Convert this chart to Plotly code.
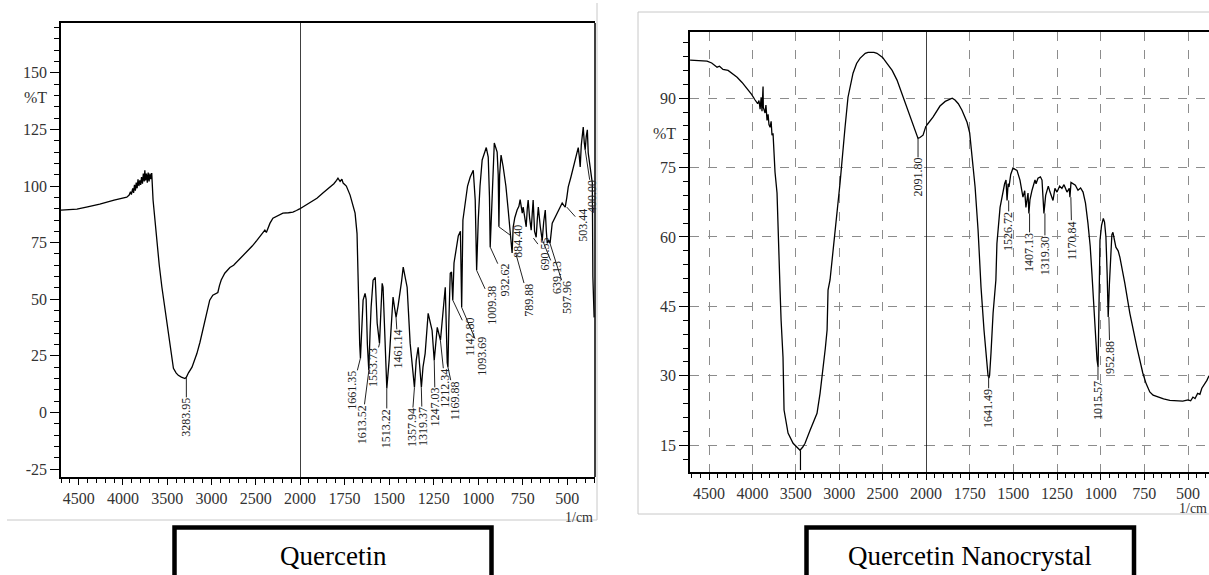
import numpy as np
import plotly.graph_objects as go

# ---- Quercetin FTIR spectrum (wavenumber 1/cm, %T) ----
q_wn = [4700, 4600, 4520, 4400, 4262, 4100, 3957, 3930, 3915, 3905, 3890, 3880, 3870, 3860, 3850, 3840,
        3830, 3820, 3810, 3800, 3790, 3780, 3770, 3760, 3753, 3745, 3735, 3725, 3715, 3705, 3695, 3685,
        3675, 3660, 3640, 3620, 3590, 3560, 3545, 3520, 3490, 3460, 3430, 3400, 3375, 3340, 3300, 3284,
        3260, 3220, 3165, 3130, 3100, 3060, 3020, 2985, 2950, 2928, 2910, 2890, 2850, 2792, 2750, 2715,
        2660, 2600, 2540, 2487, 2440, 2397, 2380, 2362, 2340, 2306, 2250, 2193, 2130, 2080, 2040, 2000,
        1950, 1905, 1870, 1831, 1810, 1795, 1787, 1775, 1765, 1758, 1740, 1719, 1702, 1691, 1680, 1674,
        1665, 1661, 1655, 1646, 1635, 1629, 1622, 1614, 1607, 1601, 1590, 1578, 1567, 1561, 1554, 1546,
        1539, 1534, 1522, 1513, 1500, 1483, 1478, 1470, 1461, 1450, 1438, 1430, 1421, 1410, 1399, 1382,
        1365, 1358, 1348, 1337, 1328, 1319, 1310, 1298, 1281, 1270, 1259, 1247, 1237, 1230, 1212, 1196,
        1185, 1174, 1170, 1165, 1157, 1150, 1143, 1136, 1125, 1112, 1100, 1093, 1086, 1073, 1060, 1045,
        1028, 1017, 1009, 1000, 990, 978, 965, 955, 944, 937, 933, 927, 922, 915, 910, 902,
        894, 888, 884, 880, 872, 860, 845, 832, 820, 810, 804, 795, 782, 772, 765, 758,
        753, 748, 740, 731, 725, 720, 712, 703, 697, 692, 684, 675, 669, 663, 652, 641,
        633, 624, 618, 613, 605, 597, 585, 570, 557, 545, 529, 520, 512, 503, 495, 480,
        467, 455, 445, 439, 433, 428, 422, 417, 411, 405, 400, 394, 388, 383, 375, 365,
        360, 357, 355, 350]
q_t = [89.4, 89.6, 89.8, 90.8, 92.0, 93.8, 95.1, 96.0, 97.5, 96.2, 99.0, 97.0, 100.5, 98.0, 101.5, 99.0,
       103.0, 100.0, 102.5, 100.5, 104.0, 101.0, 105.5, 102.0, 107.0, 102.5, 105.5, 101.5, 106.0, 102.0, 105.5, 103.0,
       105.7, 93.8, 85.0, 76.0, 65.0, 55.3, 51.0, 44.0, 36.3, 27.0, 19.5, 17.5, 16.4, 15.6, 15.0, 15.5,
       17.5, 20.0, 26.0, 31.0, 36.0, 43.0, 49.6, 51.8, 52.5, 53.0, 56.0, 58.5, 61.5, 64.0, 65.0, 66.4,
       68.5, 70.8, 73.5, 76.0, 78.5, 80.5, 79.5, 81.4, 83.5, 85.8, 87.0, 88.0, 88.2, 88.5, 89.2, 90.0,
       92.5, 94.6, 97.0, 99.6, 101.0, 102.5, 103.5, 102.0, 103.0, 101.3, 100.0, 96.0, 90.7, 88.0, 79.0, 52.6,
       30.0, 23.9, 35.0, 49.6, 52.6, 50.0, 30.0, 18.6, 35.0, 46.5, 58.4, 59.7, 39.4, 35.0, 30.5, 45.0,
       57.0, 55.3, 30.5, 10.6, 23.0, 49.6, 51.0, 46.5, 42.0, 47.0, 52.6, 58.0, 64.2, 60.0, 55.3, 30.5,
       14.0, 11.0, 23.0, 28.8, 20.0, 11.0, 20.0, 26.0, 43.8, 40.0, 36.3, 23.0, 33.0, 37.6, 31.9, 48.2,
       55.3, 22.0, 20.0, 40.0, 61.5, 62.0, 49.6, 66.0, 72.0, 78.0, 80.0, 46.5, 85.0, 93.8, 100.0, 104.0,
       107.0, 93.8, 62.8, 85.0, 100.0, 111.5, 115.0, 117.0, 112.8, 95.0, 73.0, 85.0, 93.8, 112.0, 119.0, 117.0,
       115.0, 105.0, 82.0, 105.0, 113.7, 108.4, 100.0, 89.4, 80.0, 70.4, 81.9, 86.0, 89.4, 91.0, 94.0, 89.0,
       88.0, 90.7, 86.0, 82.0, 90.0, 93.8, 86.0, 80.5, 88.0, 93.8, 80.0, 77.4, 85.0, 90.7, 82.0, 76.0,
       84.0, 89.4, 80.0, 74.8, 76.0, 74.8, 83.6, 86.0, 88.0, 90.0, 92.5, 91.5, 90.7, 95.0, 99.6, 104.0,
       108.4, 112.0, 115.0, 117.0, 113.0, 108.4, 118.0, 121.7, 126.0, 119.0, 116.0, 122.0, 124.8, 114.6, 110.0, 104.0,
       101.3, 60.0, 51.0, 42.0]

q_peak_wn = [3283.95, 1661.35, 1613.52, 1553.73, 1513.22, 1461.14, 1357.94, 1319.37, 1247.03, 1212.34,
             1169.88, 1142.80, 1093.69, 1009.38, 932.62, 884.40, 789.88, 690.55, 639.13, 597.96, 503.44, 400.00]
q_peak_t = [15.5, 23.9, 18.6, 30.5, 10.6, 42.0, 11.0, 11.0, 23.0, 31.9,
            20.0, 49.6, 46.5, 62.8, 73.0, 82.0, 70.4, 77.0, 76.0, 74.8, 90.7, 116.0]

# ---- Quercetin Nanocrystal FTIR spectrum ----
n_wn = [4719, 4620, 4523, 4470, 4408, 4380, 4340, 4281, 4230, 4177, 4120, 4062, 4010, 3970, 3940, 3925,
        3912, 3900, 3890, 3880, 3878, 3875, 3866, 3855, 3845, 3832, 3820, 3810, 3797, 3785, 3775, 3763,
        3751, 3740, 3717, 3705, 3690, 3682, 3670, 3648, 3636, 3590, 3532, 3490, 3452, 3420, 3394, 3336,
        3256, 3221, 3187, 3160, 3140, 3129, 3106, 3048, 2991, 2933, 2899, 2841, 2800, 2761, 2700, 2668,
        2600, 2565, 2500, 2450, 2390, 2334, 2290, 2242, 2200, 2161, 2120, 2092, 2070, 2050, 2034, 2000,
        1995, 1960, 1920, 1890, 1863, 1850, 1834, 1815, 1794, 1765, 1750, 1737, 1719, 1702, 1685, 1668,
        1651, 1645, 1640, 1636, 1628, 1616, 1600, 1594, 1576, 1565, 1559, 1550, 1542, 1536, 1530, 1525,
        1515, 1502, 1490, 1479, 1462, 1445, 1435, 1428, 1416, 1411, 1405, 1393, 1376, 1370, 1359, 1345,
        1336, 1325, 1315, 1308, 1300, 1290, 1273, 1262, 1250, 1235, 1222, 1210, 1193, 1180, 1176, 1170,
        1159, 1145, 1130, 1115, 1101, 1087, 1073, 1060, 1050, 1038, 1030, 1021, 1015, 1010, 1004, 995,
        985, 978, 970, 963, 957, 950, 943, 936, 930, 922, 913, 900, 890, 862, 833, 793,
        759, 740, 719, 700, 673, 640, 604, 570, 530, 500, 485, 472, 460, 445, 432, 421,
        405, 392, 380]
n_t = [98.2, 98.1, 98.0, 97.6, 96.7, 96.9, 96.2, 96.0, 95.3, 94.5, 93.4, 92.1, 90.8, 89.6, 88.8, 89.5,
       87.6, 90.2, 87.2, 91.7, 92.5, 88.0, 87.4, 86.8, 88.5, 85.2, 86.5, 84.3, 83.7, 85.0, 82.0, 82.4,
       78.0, 74.0, 69.5, 60.8, 52.0, 48.5, 42.0, 34.0, 22.6, 17.6, 15.4, 14.6, 13.9, 14.6, 15.4, 18.2,
       21.9, 26.2, 31.2, 36.0, 39.9, 48.5, 50.7, 60.8, 71.6, 83.7, 90.2, 95.4, 97.5, 98.6, 99.7, 99.9,
       99.9, 99.7, 98.8, 97.5, 96.0, 93.9, 91.6, 88.9, 86.6, 84.6, 82.5, 81.3, 81.5, 81.8, 82.0, 84.0,
       84.2, 85.9, 88.3, 89.3, 89.8, 90.0, 89.6, 88.8, 87.4, 84.8, 82.5, 78.1, 70.8, 61.5, 49.1, 39.9,
       31.9, 30.1, 29.5, 30.1, 34.9, 43.5, 50.7, 58.6, 66.4, 68.5, 70.1, 71.5, 72.3, 67.9, 71.5, 70.8,
       73.5, 74.9, 74.6, 74.4, 72.3, 68.6, 70.0, 66.4, 69.5, 65.1, 68.0, 70.1, 72.3, 71.5, 72.7, 73.0,
       72.3, 65.1, 69.0, 70.1, 71.0, 69.7, 67.9, 70.5, 69.7, 71.0, 70.5, 71.3, 69.7, 70.5, 68.6, 71.8,
       71.6, 71.2, 70.1, 70.6, 69.7, 67.3, 63.0, 58.0, 52.0, 45.0, 38.0, 33.4, 31.9, 45.0, 59.3, 62.5,
       64.0, 63.2, 60.0, 52.0, 42.7, 50.0, 56.5, 60.5, 61.0, 59.5, 57.8, 57.0, 55.6, 50.0, 43.5, 36.2,
       30.6, 28.3, 26.5, 25.8, 25.4, 25.0, 24.7, 24.6, 24.5, 24.8, 24.6, 25.4, 25.1, 26.2, 26.0, 27.3,
       28.2, 29.0, 30.0]

n_peak_wn = [2091.80, 1641.49, 1526.72, 1407.13, 1319.30, 1170.84, 1015.57, 952.88]
n_peak_t = [81.3, 30.1, 67.9, 65.1, 65.1, 68.6, 31.9, 42.7]

# label text offsets in pixels (dx, dy) from the peak point
q_label_off = [(0, 40), (-8, 32), (-7, 54), (-6, 24), (0, 40), (2, 32), (-3, 40), (1, 39), (1, 47), (5, 48),
               (7, 33), (17, 36), (21, 49), (16, 35), (15, 33), (19, 14), (13, 47), (12, 16), (15, 37), (17, 54),
               (16, 18), (7, 47)]
n_label_off = [(0, 39), (0, 33), (0, 31), (0, 39), (0, 42), (1, 43), (0, 33), (1, 40)]

W, H = 1209, 575
SERIF = "Liberation Serif"


def fx(p):
    return p / W


def fy(p):
    return 1 - p / H


fig = go.Figure()

q_wn_a = np.array(q_wn)
q_t_a = np.array(q_t)
n_wn_a = np.array(n_wn)
n_t_a = np.array(n_t)

line = dict(color="black", width=1.3)
for wn, t, xa_hi, xa_lo, ya in [(q_wn_a, q_t_a, "x", "x2", "y"), (n_wn_a, n_t_a, "x3", "x4", "y2")]:
    hi = wn >= 2000
    lo = wn <= 2000
    fig.add_trace(go.Scatter(x=wn[hi], y=t[hi], mode="lines", line=line, xaxis=xa_hi, yaxis=ya,
                             hoverinfo="x+y"))
    fig.add_trace(go.Scatter(x=wn[lo], y=t[lo], mode="lines", line=line, xaxis=xa_lo, yaxis=ya,
                             hoverinfo="x+y"))

tickfont = dict(family=SERIF, size=16, color="#333333")
hi_ticks = [4500, 4000, 3500, 3000, 2500]
lo_ticks = [2000, 1750, 1500, 1250, 1000, 750, 500]


def xax(domain, rng, ticks, minor_dt, anchor, grid):
    return dict(domain=domain, range=rng, anchor=anchor, tickmode="array", tickvals=ticks,
                ticktext=[str(v) for v in ticks], showline=True, mirror=True, linecolor="black",
                linewidth=1.5, ticks="outside", ticklen=6, tickcolor="black", tickfont=tickfont,
                minor=dict(dtick=minor_dt, tick0=0, ticks="outside", ticklen=4, tickcolor="black", showgrid=False),
                showgrid=grid, gridcolor="#8c8c8c", griddash="dash", gridwidth=1, zeroline=False)


def yax(domain, rng, ticks, minor_dt, anchor, grid):
    return dict(domain=domain, range=rng, anchor=anchor, tickmode="array", tickvals=ticks,
                ticktext=[str(v) for v in ticks], showline=True, linecolor="black", linewidth=1.5,
                ticks="outside", ticklen=9, tickcolor="black", tickfont=tickfont,
                minor=dict(dtick=minor_dt, tick0=0, ticks="outside", ticklen=5, tickcolor="black", showgrid=False),
                showgrid=grid, gridcolor="#8c8c8c", griddash="dash", gridwidth=1, zeroline=False)


fig.update_layout(
    width=W, height=H, margin=dict(l=0, r=0, t=0, b=0),
    paper_bgcolor="white", plot_bgcolor="white", showlegend=False, template="none",
    xaxis=xax([fx(61), fx(300)], [4700, 2000], hi_ticks, 100, "y", False),
    xaxis2=xax([fx(300), fx(595)], [2000, 345], lo_ticks, 50, "y", False),
    yaxis=yax([fy(477), fy(23)], [-28.5, 172], [-25, 0, 25, 50, 75, 100, 125, 150], 5, "x", False),
    xaxis3=xax([fx(690), fx(926)], [4720, 2000], hi_ticks, 100, "y2", True),
    xaxis4=xax([fx(926), 1.0], [2000, 380], lo_ticks, 50, "y2", True),
    yaxis2=yax([fy(472), fy(32)], [9.2, 104.3], [15, 30, 45, 60, 75, 90], 3, "x3", True),
)

shapes = [
    # 2000 split lines and left panel right border
    dict(type="line", xref="x2", x0=2000, x1=2000, yref="y domain", y0=0, y1=1,
         line=dict(color="black", width=1.5)),
    dict(type="line", xref="x2 domain", x0=1, x1=1, yref="y domain", y0=0, y1=1,
         line=dict(color="black", width=1.5)),
    dict(type="line", xref="x4", x0=2000, x1=2000, yref="y2 domain", y0=0, y1=1,
         line=dict(color="black", width=1.5)),
    # leader of the O-H band of the nanocrystal (label falls below the frame)
    dict(type="line", xref="x3", x0=3446.79, x1=3446.79, yref="y2", y0=13.9, y1=9.6,
         line=dict(color="black", width=1.2)),
    # light frames of the pasted pictures
    dict(type="line", xref="paper", yref="paper", x0=fx(597), x1=fx(597), y0=fy(3), y1=fy(520),
         line=dict(color="#c8c8c8", width=1)),
    dict(type="line", xref="paper", yref="paper", x0=fx(7), x1=fx(597), y0=fy(520), y1=fy(520),
         line=dict(color="#c8c8c8", width=1)),
    dict(type="rect", xref="paper", yref="paper", x0=fx(638), x1=1.02, y0=fy(514), y1=fy(12),
         line=dict(color="#c8c8c8", width=1)),
    # caption boxes
    dict(type="rect", xref="paper", yref="paper", x0=fx(174.5), x1=fx(491.5), y0=-0.1, y1=fy(527.5),
         line=dict(color="black", width=4.5)),
    dict(type="rect", xref="paper", yref="paper", x0=fx(806.5), x1=fx(1134), y0=-0.1, y1=fy(527.5),
         line=dict(color="black", width=4.5)),
]
fig.update_layout(shapes=shapes)

label_font = dict(family=SERIF, size=12, color="#222222")
ann = []
for w, t, (dx, dy) in zip(q_peak_wn, q_peak_t, q_label_off):
    ann.append(dict(x=w, y=t, xref="x" if w > 2000 else "x2", yref="y", text=f"{w:.2f}", textangle=-90,
                    font=label_font, showarrow=True, arrowhead=0, arrowwidth=1, arrowcolor="#222222",
                    ax=dx, ay=dy, standoff=0, borderpad=0))
for w, t, (dx, dy) in zip(n_peak_wn, n_peak_t, n_label_off):
    ann.append(dict(x=w, y=t, xref="x3" if w > 2000 else "x4", yref="y2", text=f"{w:.2f}", textangle=-90,
                    font=label_font, showarrow=True, arrowhead=0, arrowwidth=1, arrowcolor="#222222",
                    ax=dx, ay=dy, standoff=0, borderpad=0))

# %T unit labels and 1/cm
ann.append(dict(x=0, xref="x domain", y=139, yref="y", text="%T", showarrow=False, xanchor="right",
                xshift=-12, font=tickfont))
ann.append(dict(x=0, xref="x3 domain", y=82.4, yref="y2", text="%T", showarrow=False, xanchor="right",
                xshift=-12, font=tickfont))
ann.append(dict(x=1, xref="x2 domain", y=fy(517), yref="paper", text="1/cm", showarrow=False,
                xanchor="right", yanchor="middle", font=dict(family=SERIF, size=14, color="#333333")))
ann.append(dict(x=1, xref="paper", y=fy(508), yref="paper", text="1/cm", showarrow=False,
                xanchor="right", yanchor="middle", font=dict(family=SERIF, size=14, color="#333333")))

# captions
cap_font = dict(family=SERIF, size=27, color="black")
ann.append(dict(x=fx(333), y=fy(556), xref="paper", yref="paper", text="Quercetin", showarrow=False,
                xanchor="center", yanchor="middle", font=cap_font))
ann.append(dict(x=fx(970), y=fy(556), xref="paper", yref="paper", text="Quercetin Nanocrystal",
                showarrow=False, xanchor="center", yanchor="middle", font=cap_font))

fig.update_layout(annotations=ann)

fig.write_html("out.html", config={"displayModeBar": False},
               post_script="document.body.style.margin='0px';")
